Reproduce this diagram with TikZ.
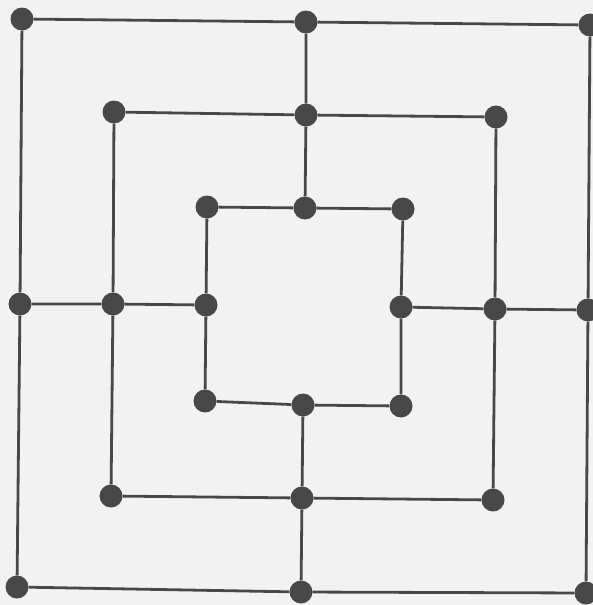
\documentclass[tikz,border=0pt]{standalone}
\begin{document}
\begin{tikzpicture}[x=1pt,y=-1pt,
  pt/.style={circle,fill=boardgray,inner sep=0pt,minimum size=23pt},
  ln/.style={draw=boardgray,line width=2.8pt}]
\definecolor{boardgray}{HTML}{484848}
\definecolor{paper}{HTML}{F2F2F2}
\useasboundingbox (0,0) rectangle (593,605);
\clip (0,0) rectangle (593,605);
\fill[paper] (0,0) rectangle (593,605);
% outer square
\node[pt] (o1) at (22,19) {};
\node[pt] (o2) at (306,22) {};
\node[pt] (o3) at (590,25) {};
\node[pt] (o4) at (588,310) {};
\node[pt] (o5) at (586,593) {};
\node[pt] (o6) at (301,592) {};
\node[pt] (o7) at (17,587) {};
\node[pt] (o8) at (20,304) {};
% middle square
\node[pt] (m1) at (114,112) {};
\node[pt] (m2) at (306,115) {};
\node[pt] (m3) at (496,117) {};
\node[pt] (m4) at (495,309) {};
\node[pt] (m5) at (493,500) {};
\node[pt] (m6) at (302,498) {};
\node[pt] (m7) at (111,496) {};
\node[pt] (m8) at (113,304) {};
% inner square
\node[pt] (i1) at (207,207) {};
\node[pt] (i2) at (305,208) {};
\node[pt] (i3) at (403,209) {};
\node[pt] (i4) at (401,307) {};
\node[pt] (i5) at (401,406) {};
\node[pt] (i6) at (303,405) {};
\node[pt] (i7) at (205,401) {};
\node[pt] (i8) at (206,305) {};
% squares
\draw[ln] (o1)--(o2)--(o3)--(o4)--(o5)--(o6)--(o7)--(o8)--(o1);
\draw[ln] (m1)--(m2)--(m3)--(m4)--(m5)--(m6)--(m7)--(m8)--(m1);
\draw[ln] (i1)--(i2)--(i3)--(i4)--(i5)--(i6)--(i7)--(i8)--(i1);
% cross lines
\draw[ln] (o2)--(m2)--(i2);
\draw[ln] (o4)--(m4)--(i4);
\draw[ln] (o6)--(m6)--(i6);
\draw[ln] (o8)--(m8)--(i8);
\end{tikzpicture}
\end{document}
